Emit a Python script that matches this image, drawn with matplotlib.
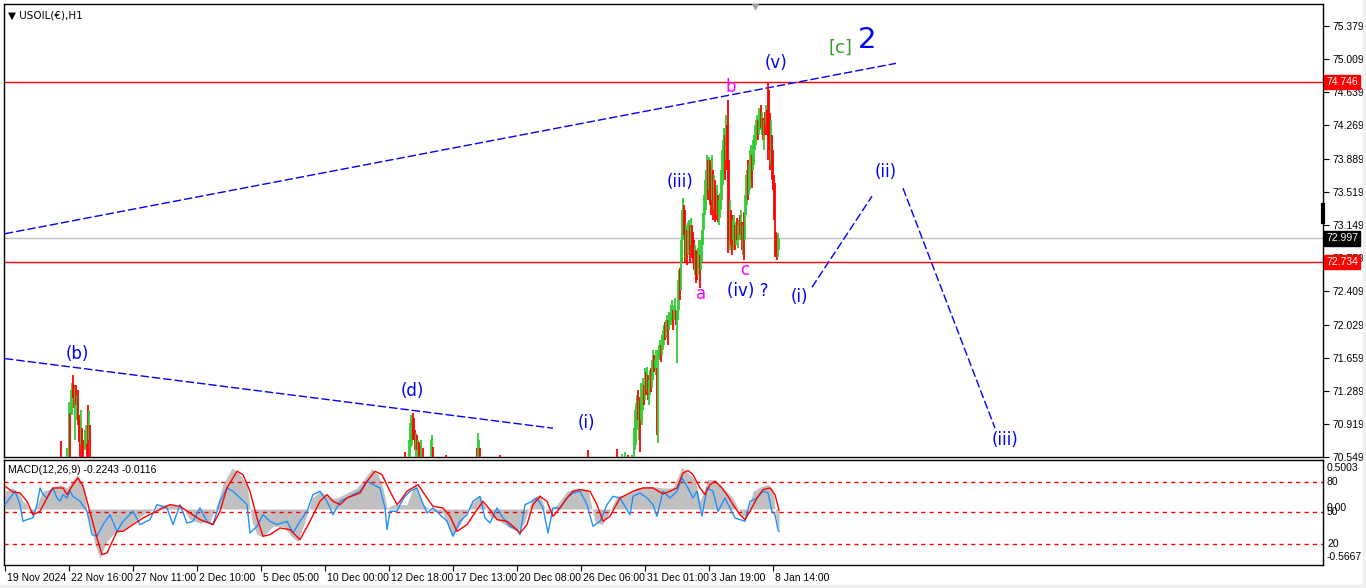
import matplotlib
matplotlib.use("Agg")
import matplotlib.pyplot as plt
from matplotlib.patches import Rectangle
from matplotlib import transforms

plt.rcParams['font.family'] = ['Liberation Sans', 'DejaVu Sans']

# ---- price bars (bar index, high, low, up=1/down=0) ----
bar_idx = [52, 56, 62, 64, 65, 66, 67, 68, 69, 70, 71, 72, 73, 74, 75, 76, 77, 78, 80, 81, 82, 83, 84, 85,
           400, 404, 405, 406, 407, 408, 409, 410, 411, 412, 413, 414, 415, 416, 418, 426, 427, 428, 441,
           472, 473, 474, 475, 495,
           583, 612, 617, 620, 623, 627, 629, 630, 631, 632, 633, 634, 635, 636, 637, 638, 639, 640, 641,
           642, 643, 644, 645, 646, 647, 648, 649, 650, 651, 652, 653, 654, 655, 656, 657, 658, 659, 660,
           661, 662, 663, 664, 665, 666, 667, 668, 669, 670, 671, 672, 673, 674, 675, 676, 677, 678, 679,
           680, 681, 682, 683, 684, 685, 686, 687, 688, 689, 690, 691, 692, 693, 694, 695, 696, 697, 698,
           699, 700, 701, 702, 703, 704, 705, 706, 707, 708, 709, 710, 711, 712, 713, 714, 715, 716, 717,
           718, 719, 720, 721, 722, 723, 724, 725, 726, 727, 728, 729, 730, 731, 732, 733, 734, 735, 736,
           737, 738, 739, 740, 741, 742, 743, 744, 745, 746, 747, 748, 749, 750, 751, 752, 753, 754, 755,
           756, 757, 758, 759, 760, 761, 762, 763, 764, 765, 766, 767, 768, 769, 770, 771, 772, 773, 774]
bar_high = [70.55, 70.73, 70.65, 71.16, 71.04, 71.30, 71.38, 71.47, 71.35, 71.32, 71.35, 71.24, 71.30, 71.02,
            70.96, 71.07, 70.87, 70.74, 70.85, 70.91, 70.69, 71.13, 71.07, 70.91,
            70.60, 70.74, 70.93, 71.02, 70.96, 71.04, 70.98, 70.85, 70.82, 70.79, 70.74, 70.71, 70.68, 70.74,
            70.65, 70.74, 70.79, 70.66, 70.57,
            70.65, 70.82, 70.74, 70.65, 70.57,
            70.63, 70.64, 70.58, 70.60, 70.57, 70.57, 70.87, 71.07, 71.15, 71.24, 71.30, 71.19, 71.22, 71.38,
            71.30, 71.43, 71.35, 71.54, 71.50, 71.56, 71.47, 71.41, 71.52, 71.54, 71.63, 71.75, 71.69, 71.63,
            71.75, 71.54, 71.75, 71.80, 71.86, 71.80, 71.91, 71.97, 72.03, 72.06, 72.08, 72.14, 72.08, 72.17,
            72.16, 72.25, 72.31, 72.19, 72.25, 72.33, 72.19, 72.19, 72.53, 72.64, 72.67, 72.98, 73.32, 73.45,
            73.37, 73.32, 73.15, 73.09, 73.18, 73.20, 73.15, 73.23, 73.15, 73.07, 72.98, 72.92, 72.87, 72.85,
            72.89, 72.98, 72.81, 72.98, 73.09, 73.28, 73.48, 73.65, 73.76, 73.93, 73.88, 73.91, 73.88, 73.82,
            73.93, 73.76, 73.71, 73.65, 73.54, 73.60, 73.48, 73.43, 73.51, 73.76, 73.99, 74.10, 74.24, 74.16,
            74.38, 74.27, 74.55, 73.88, 73.43, 73.32, 73.26, 73.20, 73.26, 73.15, 73.18, 73.23, 73.15, 73.20,
            73.26, 73.32, 73.18, 73.15, 73.29, 73.48, 73.71, 73.76, 73.88, 73.82, 73.99, 74.04, 73.93, 74.10,
            74.16, 74.27, 74.33, 74.38, 74.33, 74.46, 74.44, 74.49, 74.41, 74.35, 74.33, 74.41, 74.49, 74.44,
            74.74, 74.66, 74.40, 74.33, 74.16, 73.99, 73.71, 73.62, 73.07, 73.04, 73.06, 73.00]
bar_low = [70.40, 70.40, 70.40, 70.40, 70.40, 71.02, 71.02, 71.21, 71.10, 70.74, 71.13, 70.96, 70.91, 70.71,
           70.51, 70.68, 70.40, 70.40, 70.63, 70.65, 70.40, 70.40, 70.74, 70.40,
           70.40, 70.40, 70.40, 70.66, 70.68, 70.74, 70.74, 70.63, 70.40, 70.63, 70.40, 70.40, 70.54, 70.40,
           70.40, 70.40, 70.40, 70.40, 70.40,
           70.40, 70.40, 70.40, 70.40, 70.40,
           70.40, 70.40, 70.40, 70.40, 70.40, 70.40, 70.40, 70.63, 70.68, 70.85, 70.96, 70.74, 70.60, 70.96,
           70.91, 71.07, 71.13, 71.19, 71.24, 71.30, 71.19, 71.13, 71.24, 71.28, 71.32, 71.41, 71.50, 71.54,
           71.47, 70.79, 70.70, 71.63, 71.66, 71.61, 71.69, 71.75, 71.80, 71.86, 71.88, 71.95, 71.80, 71.97,
           72.03, 72.03, 72.08, 71.97, 72.08, 72.11, 72.03, 71.60, 72.08, 72.19, 72.31, 72.42, 72.73, 72.98,
           73.04, 72.72, 72.76, 72.70, 72.81, 72.87, 72.73, 72.92, 72.78, 72.73, 72.64, 72.59, 72.50, 72.53,
           72.59, 72.67, 72.44, 72.64, 72.73, 72.92, 73.09, 73.26, 73.32, 73.48, 73.43, 73.54, 73.37, 73.26,
           73.43, 73.20, 73.32, 73.18, 73.20, 73.26, 73.18, 73.15, 73.23, 73.32, 73.43, 73.60, 73.71, 73.65,
           73.88, 73.76, 72.83, 72.98, 72.87, 72.92, 72.81, 72.98, 72.87, 72.87, 72.92, 72.98, 72.89, 72.98,
           73.04, 72.98, 72.87, 72.81, 72.76, 72.98, 73.26, 73.37, 73.43, 73.48, 73.54, 73.65, 73.56, 73.76,
           73.82, 73.99, 74.04, 74.10, 74.10, 74.16, 74.21, 74.24, 74.16, 74.10, 73.99, 74.16, 74.27, 74.16,
           73.88, 73.99, 73.76, 73.82, 73.65, 73.54, 73.20, 72.79, 72.81, 72.76, 72.79, 72.87]
bar_up = [0, 0, 1, 1, 0, 1, 1, 0, 0, 1, 0, 1, 0, 0, 0, 1, 0, 0, 1, 1, 0, 0, 1, 0,
          0, 1, 1, 1, 1, 0, 0, 0, 1, 0, 1, 0, 0, 1, 0, 1, 1, 0, 0,
          0, 1, 1, 0, 0,
          0, 0, 1, 1, 0, 1, 1, 1, 1, 1, 0, 1, 0, 1, 1, 1, 0, 1, 0, 1, 0, 1, 1, 0, 1, 1, 0, 1, 1, 0, 1, 1,
          1, 0, 1, 1, 1, 0, 1, 1, 0, 1, 1, 1, 1, 0, 1, 1, 0, 1, 1, 1, 0, 1, 1, 1, 0, 0, 1, 0, 1, 1, 0, 1,
          0, 0, 0, 1, 0, 0, 1, 1, 0, 1, 1, 1, 1, 1, 1, 1, 0, 1, 0, 0, 1, 0, 1, 0, 0, 1, 0, 1, 1, 1, 1, 1,
          1, 0, 1, 0, 0, 0, 1, 0, 0, 1, 1, 0, 1, 0, 1, 1, 0, 1, 0, 1, 0, 1, 1, 1, 0, 1, 1, 1, 0, 1, 1, 1,
          1, 1, 0, 1, 1, 0, 1, 0, 1, 0, 1, 0, 0, 0, 0, 1, 0, 0, 0, 0, 0, 0, 1, 1]

price_ticks = [75.379, 75.009, 74.639, 74.269, 73.889, 73.519, 73.149, 72.779, 72.409, 72.029, 71.659,
               71.289, 70.919, 70.549]
red_levels = [74.746, 72.734]
last_price = 72.997

date_pos = [0, 64, 128, 192, 256, 320, 384, 448, 512, 576, 640, 704, 768]
date_labels = ['19 Nov 2024', '22 Nov 16:00', '27 Nov 11:00', '2 Dec 10:00', '5 Dec 05:00', '10 Dec 00:00',
               '12 Dec 18:00', '17 Dec 13:00', '20 Dec 08:00', '26 Dec 06:00', '31 Dec 01:00',
               '3 Jan 19:00', '8 Jan 14:00']

# ---- MACD panel ----
hist_idx = [0, 8, 15, 18, 22, 27, 32, 38, 48, 55, 62, 72, 78, 83, 90, 95, 102, 108, 118, 128, 138, 148, 158,
            168, 178, 185, 195, 205, 212, 218, 227, 235, 242, 247, 252, 258, 268, 278, 288, 293, 300, 307,
            315, 325, 332, 342, 352, 360, 367, 373, 378, 382, 388, 395, 402, 410, 418, 428, 438, 447, 455,
            465, 475, 485, 495, 505, 513, 520, 527, 535, 542, 552, 562, 572, 583, 590, 597, 603, 612, 622,
            632, 645, 658, 668, 677, 683, 690, 695, 703, 710, 718, 728, 737, 742, 748, 757, 763, 768, 772, 774]
hist_val = [0.187, 0.222, 0.152, 0.081, 0.046, -0.077, 0.046, 0.187, 0.222, 0.257, 0.222, 0.363, 0.257, -0.060,
            -0.376, -0.517, -0.341, -0.271, -0.218, -0.148, -0.060, -0.007, 0.046, 0.046, 0.011, -0.112,
            -0.148, -0.130, 0.046, 0.257, 0.433, 0.363, 0.257, -0.130, -0.271, -0.288, -0.183, -0.183,
            -0.306, -0.341, -0.130, 0.116, 0.187, 0.116, 0.116, 0.169, 0.222, 0.328, 0.426, 0.363, 0.222,
            0.011, 0.046, 0.046, 0.046, 0.275, 0.046, -0.024, -0.042, -0.288, -0.165, 0.046, 0.134, -0.077,
            -0.130, -0.200, -0.236, -0.130, 0.116, 0.152, -0.060, 0.046, 0.187, 0.222, 0.204, -0.130, -0.165,
            -0.060, 0.134, 0.152, 0.222, 0.240, 0.222, 0.222, 0.440, 0.380, 0.310, 0.081, 0.310, 0.310, 0.222,
            0.116, -0.077, -0.060, 0.187, 0.240, 0.257, 0.204, -0.165, -0.224]
sig_idx = [0, 8, 15, 22, 28, 35, 42, 48, 58, 62, 68, 73, 78, 83, 92, 97, 102, 112, 118, 128, 138, 148, 158,
           165, 175, 185, 195, 208, 215, 222, 232, 238, 245, 252, 258, 265, 275, 285, 295, 305, 315, 322,
           328, 335, 342, 355, 362, 370, 377, 385, 392, 395, 402, 413, 422, 428, 438, 445, 452, 462, 472,
           478, 485, 492, 502, 508, 515, 522, 528, 535, 542, 548, 555, 562, 568, 575, 585, 592, 598, 605,
           615, 628, 638, 648, 658, 665, 672, 678, 683, 688, 695, 700, 705, 710, 717, 723, 728, 735, 740,
           745, 752, 758, 765, 770, 774]
sig_val = [0.240, 0.180, 0.169, 0.081, -0.060, -0.024, 0.116, 0.222, 0.222, 0.152, 0.257, 0.328, 0.240,
           0.046, -0.306, -0.482, -0.464, -0.236, -0.236, -0.165, -0.095, -0.042, 0.011, 0.046, 0.028,
           -0.042, -0.112, -0.165, -0.024, 0.222, 0.398, 0.363, 0.187, -0.095, -0.288, -0.271, -0.200,
           -0.218, -0.324, -0.130, 0.081, 0.152, 0.081, 0.046, 0.116, 0.169, 0.292, 0.398, 0.363, 0.187,
           0.046, 0.081, 0.187, 0.257, 0.116, 0.028, 0.011, -0.077, -0.236, -0.165, -0.007, 0.081, -0.007,
           -0.112, -0.130, -0.183, -0.253, -0.165, 0.046, 0.134, 0.081, -0.077, 0.011, 0.116, 0.187, 0.204,
           0.187, 0.046, -0.130, -0.077, 0.116, 0.187, 0.222, 0.222, 0.159, 0.187, 0.222, 0.380, 0.405,
           0.363, 0.222, 0.152, 0.257, 0.292, 0.222, 0.134, 0.046, -0.060, -0.112, -0.024, 0.116, 0.204,
           0.222, 0.152, -0.012]
fast_idx = [0, 5, 10, 15, 18, 22, 28, 32, 35, 38, 42, 45, 48, 52, 55, 58, 62, 65, 68, 75, 82, 87, 92, 98,
            105, 112, 118, 128, 135, 145, 152, 162, 168, 175, 182, 188, 195, 202, 208, 215, 222, 228, 235,
            242, 245, 252, 258, 265, 272, 282, 288, 295, 302, 308, 315, 322, 328, 335, 342, 348, 355, 362,
            368, 375, 380, 382, 385, 392, 395, 400, 405, 412, 417, 422, 428, 435, 442, 448, 455, 462, 468,
            475, 480, 485, 492, 498, 505, 512, 515, 520, 527, 532, 538, 543, 548, 555, 562, 568, 575, 582,
            588, 595, 602, 608, 615, 625, 628, 635, 642, 648, 652, 658, 665, 672, 677, 682, 688, 692, 697,
            702, 708, 713, 720, 725, 730, 735, 740, 745, 752, 758, 763, 767, 770, 773, 774]
fast_val = [0.046, 0.116, 0.187, 0.046, -0.130, -0.112, -0.095, 0.046, 0.222, 0.152, 0.116, 0.187, 0.222,
            0.116, 0.081, 0.152, 0.116, 0.187, 0.134, 0.081, -0.024, -0.271, -0.288, -0.165, -0.060,
            -0.236, -0.130, -0.024, -0.165, -0.112, 0.046, 0.011, -0.165, 0.046, -0.148, -0.130, 0.011,
            -0.130, -0.165, 0.081, 0.222, 0.187, 0.116, 0.046, -0.253, -0.183, -0.060, -0.130, -0.165,
            -0.130, -0.253, -0.130, -0.024, 0.152, 0.187, 0.081, -0.060, 0.081, 0.116, 0.152, 0.187, 0.292,
            0.257, 0.222, 0.011, -0.218, -0.024, -0.024, 0.046, 0.134, 0.187, 0.222, 0.081, -0.042, 0.011,
            -0.060, -0.130, -0.288, -0.130, -0.060, 0.081, 0.134, -0.095, -0.148, 0.011, -0.095, -0.183,
            -0.218, -0.271, 0.046, 0.081, 0.116, 0.011, -0.253, 0.011, 0.011, 0.116, 0.169, 0.187, 0.046,
            -0.183, -0.130, 0.046, 0.134, 0.116, -0.060, 0.134, 0.169, 0.116, 0.046, -0.077, 0.187, 0.116,
            0.187, 0.328, 0.240, 0.116, 0.187, -0.077, 0.222, 0.187, -0.024, 0.116, 0.011, -0.095, -0.112,
            -0.130, 0.081, 0.116, 0.187, 0.169, -0.024, -0.060, -0.218, -0.236]
level_vals = [0.286, -0.035, -0.369]
level_labels = ['80', '50', '20']

FS = 7.5
W, H = 1366, 588
fig = plt.figure(figsize=(W / 100, H / 100), dpi=100, facecolor='white')
fig.patches.append(Rectangle((0, 0), 1, 3 / H, transform=fig.transFigure, color='#F0F0F0', zorder=0))
fig.patches.append(Rectangle((1 - 3 / W, 0), 3 / W, 1, transform=fig.transFigure, color='#F0F0F0', zorder=0))

ax = fig.add_axes([4 / W, 1 - 457 / H, (1323 - 4) / W, (457 - 4) / H])
axm = fig.add_axes([4 / W, 1 - 565 / H, (1323 - 4) / W, (565 - 460) / H])

for a in (ax, axm):
    a.set_xlim(-1, 1318)
    for s in a.spines.values():
        s.set_color('black')
        s.set_linewidth(1)

# price panel
ax.set_ylim(70.547, 75.625)
colors = ['#32CD32' if u else '#FF0000' for u in bar_up]
ax.vlines(bar_idx, bar_low, bar_high, colors=colors, linewidth=1.3, zorder=3)

for lv in red_levels:
    ax.axhline(lv, color='#FF0000', lw=1, zorder=2)
ax.axhline(last_price, color='#C0C0C0', lw=1, zorder=2)

dash = (0, (6, 2.2))
ax.plot([0, 891], [73.05, 74.96], color='#0000FF', lw=1, ls=dash)
ax.plot([0, 548], [71.65, 70.87], color='#0000FF', lw=1, ls=dash)
ax.plot([807, 867], [72.45, 73.47], color='#0000FF', lw=1, ls=dash)
ax.plot([898, 990], [73.56, 70.87], color='#0000FF', lw=1, ls=dash)

ax.yaxis.tick_right()
ax.set_yticks(price_ticks)
ax.set_yticklabels(['%.3f' % v for v in price_ticks])
ax.tick_params(axis='y', direction='out', length=4, labelsize=FS, pad=3)
ax.set_xticks([])

tr = transforms.blended_transform_factory(ax.transAxes, ax.transData)
for lv, bg in [(red_levels[0], '#FF0000'), (red_levels[1], '#FF0000'), (last_price, '#000000')]:
    ax.text(1.0025, lv, '%.3f' % lv, transform=tr, color='white', fontsize=FS, va='center', ha='left',
            bbox=dict(boxstyle='square,pad=0.2', fc=bg, ec=bg), zorder=6, clip_on=False)
ax.plot([1.0, 1.0], [73.18, 73.37], transform=tr, color='black', lw=3, clip_on=False, zorder=6)
ax.plot([750], [75.60], marker='v', color='#A0A0A0', ms=5, zorder=4)

ax.text(0.003, 0.985, '\u25bc USOIL(\u20ac),H1', transform=ax.transAxes, fontsize=FS, va='top', ha='left',
        family=['DejaVu Sans'])

blue = '#0000FF'
mag = '#FF00FF'
lbl = dict(fontsize=12, ha='center', va='center', zorder=5, family=['DejaVu Sans'])
ax.text(72, 71.70, '(b)', color=blue, **lbl)
ax.text(407, 71.29, '(d)', color=blue, **lbl)
ax.text(581, 70.93, '(i)', color=blue, **lbl)
ax.text(675, 73.63, '(iii)', color=blue, **lbl)
ax.text(696, 72.37, 'a', color=mag, **lbl)
ax.text(740, 72.64, 'c', color=mag, **lbl)
ax.text(743, 72.41, '(iv) ?', color=blue, **lbl)
ax.text(726, 74.69, 'b', color=mag, **lbl)
ax.text(771, 74.96, '(v)', color=blue, **lbl)
ax.text(835, 75.14, '[c]', color='#3A9A2A', fontsize=13, ha='center', va='center', family=['DejaVu Sans'])
ax.text(862, 75.22, '2', color=blue, fontsize=21, ha='center', va='center', family=['DejaVu Sans'])
ax.text(794, 72.34, '(i)', color=blue, **lbl)
ax.text(881, 73.74, '(ii)', color=blue, **lbl)
ax.text(1000, 70.74, '(iii)', color=blue, **lbl)

# MACD panel
axm.set_ylim(-0.591, 0.517)
axm.fill_between(hist_idx, 0, hist_val, color='#C0C0C0', lw=0, zorder=1)
axm.plot(fast_idx, fast_val, color='#1E90FF', lw=1, zorder=3)
axm.plot(sig_idx, sig_val, color='#FF0000', lw=1, zorder=4)
for lv in level_vals:
    axm.axhline(lv, color='#FF0000', lw=1, ls=(0, (3, 3)), zorder=2)

axm.set_yticks([])
trm = transforms.blended_transform_factory(axm.transAxes, axm.transData)
for lv, t in zip(level_vals, level_labels):
    axm.text(1.003, lv, t, transform=trm, fontsize=FS, va='center', ha='left', clip_on=False)
axm.text(1.003, 0.012, '0.00', transform=trm, fontsize=FS, va='center', ha='left', clip_on=False)
axm.text(1.003, 0.97, '0.5003', transform=axm.transAxes, fontsize=FS, va='top', ha='left')
axm.text(1.003, 0.03, '-0.5667', transform=axm.transAxes, fontsize=FS, va='bottom', ha='left')
axm.text(0.003, 0.95, 'MACD(12,26,9) -0.2243 -0.0116', transform=axm.transAxes, fontsize=FS,
         va='top', ha='left')

axm.set_xticks(date_pos)
axm.set_xticklabels(date_labels, fontsize=FS, ha='left')
axm.tick_params(axis='x', direction='out', length=4, pad=2)
offset = transforms.ScaledTranslation(2 / 100, 0, fig.dpi_scale_trans)
for t in axm.get_xticklabels():
    t.set_transform(t.get_transform() + offset)

fig.savefig('out.png', dpi=100, facecolor='white')
